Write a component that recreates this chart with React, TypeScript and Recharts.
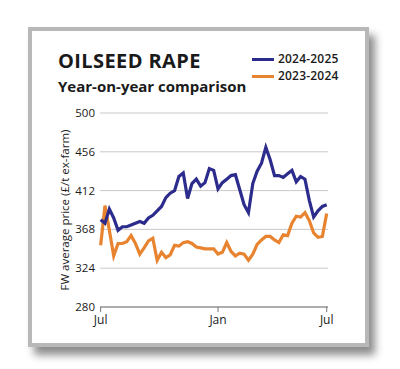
import React from 'react'
import { LineChart, Line, XAxis, YAxis, CartesianGrid } from 'recharts'

// weekly prices, Jul to Jul (£/t ex-farm)
const weeks = Array.from({ length: 53 }, (_, i) => i)

const price2425 = [
  379, 375, 391, 381, 367, 371, 371, 373, 375, 377, 375, 381, 384, 389, 394, 404, 409, 412,
  428, 432, 403, 420, 425, 417, 421, 437, 435, 414, 421, 425, 429, 430, 413, 396, 387, 420,
  434, 443, 461, 447, 429, 429, 427, 431, 435, 422, 428, 425, 401, 382, 389, 394, 396,
]

const price2324 = [
  350, 395, 367, 338, 352, 352, 354, 361, 352, 340, 347, 355, 358, 333, 342, 336, 339, 350,
  349, 353, 354, 352, 348, 347, 346, 346, 346, 340, 342, 353, 343, 338, 341, 340, 333, 340,
  351, 356, 360, 360, 356, 353, 362, 361, 375, 383, 382, 387, 378, 364, 359, 360, 386,
]

const yTicks = [280, 324, 368, 412, 456, 500]
const xTicks = [0, 27, 52]
const xLabels: Record<number, string> = { 0: 'Jul', 27: 'Jan', 52: 'Jul' }

const BLUE = '#2c2c8c'
const ORANGE = '#e8832f'
const FONT = '"Open Sans", sans-serif'

const data = weeks.map((w, i) => ({ week: w, a: price2425[i], b: price2324[i] }))

export default function App() {
  return (
    <div
      style={{
        position: 'absolute',
        left: 0,
        top: 0,
        width: 400,
        height: 369,
        background: '#fff',
        fontFamily: FONT,
        color: '#1a1a1a',
        overflow: 'hidden',
      }}
    >
      {/* card frame */}
      <div
        style={{
          position: 'absolute',
          left: 28,
          top: 27,
          width: 333,
          height: 312,
          border: '4px solid #b8b8b8',
          boxShadow: '6px 8px 8px rgba(0,0,0,0.45)',
          background: '#fff',
        }}
      />

      <div
        style={{
          position: 'absolute',
          left: 58,
          top: 49,
          fontSize: 20,
          fontWeight: 700,
          letterSpacing: 0.4,
          lineHeight: '24px',
        }}
      >
        OILSEED RAPE
      </div>
      <div
        style={{
          position: 'absolute',
          left: 58,
          top: 76,
          fontSize: 15,
          fontWeight: 700,
          lineHeight: '20px',
        }}
      >
        Year-on-year comparison
      </div>

      {/* legend */}
      {[
        { label: '2024-2025', color: BLUE, y: 59 },
        { label: '2023-2024', color: ORANGE, y: 76 },
      ].map((l) => (
        <div
          key={l.label}
          style={{ position: 'absolute', left: 252, top: l.y - 7, height: 14, display: 'flex', alignItems: 'center' }}
        >
          <div style={{ width: 22, height: 3, background: l.color, marginRight: 4 }} />
          <span style={{ fontSize: 12, fontWeight: 600, lineHeight: '14px', letterSpacing: 0.2 }}>{l.label}</span>
        </div>
      ))}

      <div style={{ position: 'absolute', left: 0, top: 0 }}>
        <LineChart
          width={400}
          height={369}
          data={data}
          margin={{ top: 113, right: 72, bottom: 32, left: 60 }}
        >
          <CartesianGrid vertical={false} stroke="#c9c9c9" strokeWidth={1} />
          <XAxis
            dataKey="week"
            type="number"
            domain={[-0.15, 52.3]}
            ticks={xTicks}
            tickFormatter={(v: number) => xLabels[v] ?? ''}
            height={30}
            tickSize={5}
            tickMargin={3}
            stroke="#777"
            tick={{ fill: '#1a1a1a', fontSize: 12, fontFamily: FONT, fontWeight: 500 }}
          />
          <YAxis
            domain={[280, 500]}
            ticks={yTicks}
            width={40}
            axisLine={false}
            tickLine={false}
            tickSize={3}
            tickMargin={2}
            tick={{ fill: '#1a1a1a', fontSize: 11.5, fontFamily: FONT, fontWeight: 500 }}
            label={{
              value: 'FW average price (£/t ex-farm)',
              angle: -90,
              position: 'insideLeft',
              offset: 5,
              style: { textAnchor: 'middle', fill: '#1a1a1a', fontSize: 11.5, fontFamily: FONT, fontWeight: 500 },
            }}
          />
          <Line
            dataKey="b"
            stroke={ORANGE}
            strokeWidth={3.2}
            dot={false}
            isAnimationActive={false}
            strokeLinejoin="miter"
          />
          <Line
            dataKey="a"
            stroke={BLUE}
            strokeWidth={3.2}
            dot={false}
            isAnimationActive={false}
            strokeLinejoin="miter"
          />
        </LineChart>
      </div>
    </div>
  )
}
